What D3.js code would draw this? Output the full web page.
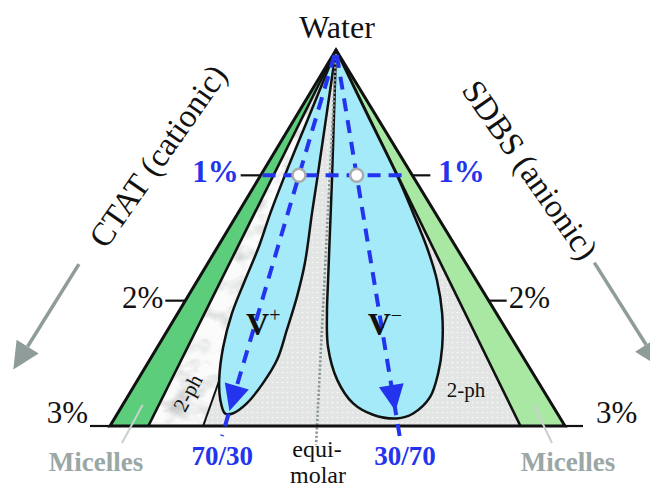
<!DOCTYPE html>
<html>
<head>
<meta charset="utf-8">
<script src="https://cdn.jsdelivr.net/npm/d3@7"></script>
<style>
  html, body { margin: 0; padding: 0; background: #fff; }
  svg { display: block; }
  text { font-family: "Liberation Serif", "Times New Roman", "DejaVu Serif", serif; }
</style>
</head>
<body>
<svg id="chart" width="650" height="489"></svg>
<script>
// Total surfactant concentration (wt%) marked on both sides of the triangle
const concTicks = [1, 2, 3];
const concLabels = ["1%", "2%", "3%"];

// Phase boundaries, as CTAT mole fraction of the surfactant mixture
const micelleCtatBoundary = 0.9;    // CTAT-rich micelles between 0.9 and 1
const micelleSdbsBoundary = 0.08;   // SDBS-rich micelles between 0 and 0.08
const twoPhaseCtatBoundary = 0.757; // lower edge of the CTAT-rich two-phase wedge

// Dilution paths at a fixed CTAT/SDBS ratio
const ratioPaths = [0.7, 0.3];
const ratioLabels = ["70/30", "30/70"];
const equimolar = 0.5;

// Vesicle lobes, points as [CTAT fraction, total wt%]
const vesiclePlus = [
  [0.7, 0], [0.578, 0.5], [0.578, 1.04], [0.579, 1.30], [0.578, 1.70], [0.588, 1.97],
  [0.602, 2.23], [0.614, 2.47], [0.638, 2.66], [0.665, 2.82], [0.691, 2.90], [0.710, 2.90],
  [0.735, 2.79], [0.758, 2.63], [0.783, 2.37], [0.798, 2.10], [0.798, 1.835], [0.795, 1.57],
  [0.805, 1.30], [0.81, 1.04], [0.81, 0.5], [0.7, 0]
];
const vesicleMinus = [
  [0.4, 0], [0.085, 0.5], [0.083, 1.0], [0.092, 1.30], [0.10, 1.57], [0.115, 1.835],
  [0.139, 2.10], [0.170, 2.37], [0.198, 2.58], [0.2285, 2.77], [0.268, 2.90], [0.30, 2.94],
  [0.359, 2.91], [0.408, 2.82], [0.450, 2.63], [0.478, 2.37], [0.485, 2.10], [0.485, 1.835],
  [0.484, 1.44], [0.482, 1.04], [0.482, 0.5], [0.4, 0]
];

// Region names placed at [CTAT fraction, total wt%]
const vesicleNames = [
  { name: "V", sup: "+", f: 0.72, c: 2.274 },
  { name: "V", sup: "\u2212", f: 0.35, c: 2.274 }
];
const twoPhaseNames = [
  { text: "2-ph", f: 0.834, c: 2.737, angle: -62 },
  { text: "2-ph", f: 0.153, c: 2.71, angle: 0 }
];

const BLUE = "#2434ee";
const GREY = "#8e9c9a";

const svg = d3.select("#chart");

// Ternary layout: water at the apex, concentration downwards, composition across
const apexX = 336;
const yConc = d3.scaleLinear().domain([0, 3]).range([50, 426]);
const spread = d3.scaleLinear().domain([1, 0.7, 0.5, 0.3, 0]).range([-226, -111, -19, 62, 229]);
const proj = (f, c) => [apexX + spread(f) * c / 3, yConc(c)];

// ---------- defs: dotted fill and mottled texture ----------
const defs = svg.append("defs");
const pat = defs.append("pattern").attr("id", "dots")
  .attr("width", 5).attr("height", 5).attr("patternUnits", "userSpaceOnUse");
pat.append("rect").attr("width", 5).attr("height", 5).attr("fill", "#e3e5e5");
pat.append("circle").attr("cx", 2.5).attr("cy", 2.5).attr("r", 0.8).attr("fill", "#fbfbfb");

const marble = defs.append("filter").attr("id", "marble")
  .attr("x", 0).attr("y", 0).attr("width", 1).attr("height", 1);
marble.append("feTurbulence").attr("type", "fractalNoise")
  .attr("baseFrequency", "0.03 0.05").attr("numOctaves", 4).attr("seed", 7);
marble.append("feColorMatrix").attr("type", "matrix")
  .attr("values", "0 0 0 0 0.45  0 0 0 0 0.47  0 0 0 0 0.47  2.6 0 0 0 -1.2");

const polyPath = pts => "M" + pts.map(p => p.join(",")).join("L") + "Z";
const apexPt = proj(0.5, 0);

// ---------- regions ----------
// two-phase (dotted) region between the CTAT-rich wedge and the SDBS micelle band
svg.append("path")
  .attr("d", polyPath([apexPt, proj(twoPhaseCtatBoundary, 3), proj(micelleSdbsBoundary, 3)]))
  .attr("fill", "url(#dots)");

// CTAT-rich two-phase wedge with mottled texture
const wedge = [apexPt, proj(micelleCtatBoundary, 3), proj(twoPhaseCtatBoundary, 3)];
defs.append("clipPath").attr("id", "wedgeClip").append("path").attr("d", polyPath(wedge));
svg.append("path").attr("d", polyPath(wedge)).attr("fill", "#fbfbfb");
const wx = d3.extent(wedge, p => p[0]), wy = d3.extent(wedge, p => p[1]);
svg.append("rect")
  .attr("x", wx[0]).attr("y", wy[0]).attr("width", wx[1] - wx[0]).attr("height", wy[1] - wy[0])
  .attr("filter", "url(#marble)").attr("clip-path", "url(#wedgeClip)").attr("opacity", 0.7);

// micelle bands
svg.append("path")
  .attr("d", polyPath([apexPt, proj(1, 3), proj(micelleCtatBoundary, 3)]))
  .attr("fill", "#5ccd7a");
svg.append("path")
  .attr("d", polyPath([apexPt, proj(micelleSdbsBoundary, 3), proj(0, 3)]))
  .attr("fill", "#a9e8a2");

// inner boundary lines
[micelleCtatBoundary, twoPhaseCtatBoundary, micelleSdbsBoundary].forEach((f, i) => {
  const b = proj(f, 3);
  svg.append("line")
    .attr("x1", apexPt[0]).attr("y1", apexPt[1]).attr("x2", b[0]).attr("y2", b[1])
    .attr("stroke", "#111").attr("stroke-width", i === 1 ? 2 : 2.6);
});

// vesicle lobes
const lobeLine = d3.line()
  .x(d => proj(d[0], d[1])[0])
  .y(d => proj(d[0], d[1])[1])
  .curve(d3.curveCatmullRom.alpha(0.5));
[vesiclePlus, vesicleMinus].forEach(lobe => {
  svg.append("path")
    .attr("d", lobeLine(lobe) + "Z")
    .attr("fill", "#a4eaf8")
    .attr("stroke", "#111")
    .attr("stroke-width", 2.5)
    .attr("stroke-linejoin", "round");
});

// equimolar line
const eqEnd = proj(equimolar, 3.15);
svg.append("line")
  .attr("x1", apexPt[0]).attr("y1", apexPt[1] + 4).attr("x2", eqEnd[0]).attr("y2", eqEnd[1])
  .attr("stroke", "#8a9696").attr("stroke-width", 2.6).attr("stroke-dasharray", "2.2,2");

// outer triangle
svg.append("path")
  .attr("d", polyPath([apexPt, proj(1, 3), proj(0, 3)]))
  .attr("fill", "none").attr("stroke", "#111").attr("stroke-width", 3)
  .attr("stroke-linejoin", "miter");

// ---------- concentration ticks ----------
const rightGap = [26, 20, 31];
concTicks.forEach((c, i) => {
  const l = proj(1, c), r = proj(0, c);
  svg.append("line").attr("x1", l[0] - 20).attr("x2", l[0]).attr("y1", l[1]).attr("y2", l[1])
    .attr("stroke", "#111").attr("stroke-width", 2.2);
  svg.append("line").attr("x1", r[0]).attr("x2", r[0] + 18).attr("y1", r[1]).attr("y2", r[1])
    .attr("stroke", "#111").attr("stroke-width", 2.2);
  const isBlue = c === 1;
  const dy = c === 3 ? -3 : 7;
  [[l[0] - 22, "end"], [r[0] + rightGap[i], "start"]].forEach(([x, anchor]) => {
    svg.append("text")
      .attr("x", x).attr("y", l[1] + dy)
      .attr("text-anchor", anchor)
      .attr("font-size", 31)
      .attr("font-weight", isBlue ? "bold" : "normal")
      .attr("fill", isBlue ? BLUE : "#111")
      .text(concLabels[i]);
  });
});

// ---------- 1% dilution line and ratio paths ----------
const h0 = proj(0.985, 1), h1 = proj(0.04, 1);
svg.append("line")
  .attr("x1", h0[0]).attr("y1", h0[1]).attr("x2", h1[0]).attr("y2", h1[1])
  .attr("stroke", BLUE).attr("stroke-width", 4).attr("stroke-dasharray", "13,8");

ratioPaths.forEach((f, i) => {
  const p0 = proj(f, 0.04), p1 = proj(f, 3.08);
  svg.append("line")
    .attr("x1", p0[0]).attr("y1", p0[1]).attr("x2", p1[0]).attr("y2", p1[1])
    .attr("stroke", BLUE).attr("stroke-width", 4).attr("stroke-dasharray", "13,9");
  // arrowhead
  const tip = proj(f, 2.88), back = proj(f, 2.5);
  const len = Math.hypot(tip[0] - back[0], tip[1] - back[1]);
  const ux = (tip[0] - back[0]) / len, uy = (tip[1] - back[1]) / len;
  const L = 26, W = 12.5;
  const bx = tip[0] - ux * L, by = tip[1] - uy * L;
  svg.append("path")
    .attr("d", `M${tip[0]},${tip[1]}L${bx - uy * W},${by + ux * W}L${bx + uy * W},${by - ux * W}Z`)
    .attr("fill", BLUE);
  // sample marker on the 1% line
  const m = proj(f, 1);
  svg.append("circle").attr("cx", m[0]).attr("cy", m[1]).attr("r", 6.5)
    .attr("fill", "#fff").attr("stroke", "#a8acac").attr("stroke-width", 2.5);
  // ratio label
  const base = proj(f, 3.05);
  svg.append("text")
    .attr("x", base[0] + (i === 0 ? -1 : 6)).attr("y", 465)
    .attr("text-anchor", "middle").attr("font-size", 27).attr("font-weight", "bold")
    .attr("fill", BLUE).text(ratioLabels[i]);
});

// equimolar label
const eqBase = proj(equimolar, 3);
["equi-", "molar"].forEach((t, i) => {
  svg.append("text")
    .attr("x", eqBase[0] + (i === 0 ? 0 : 1)).attr("y", 457 + i * 26)
    .attr("text-anchor", "middle").attr("font-size", 24).attr("fill", "#111").text(t);
});

// ---------- region names ----------
vesicleNames.forEach(v => {
  const p = proj(v.f, v.c);
  const t = svg.append("text").attr("x", p[0]).attr("y", p[1])
    .attr("font-size", 32).attr("font-weight", "bold").attr("fill", "#111");
  t.append("tspan").text(v.name);
  t.append("tspan").attr("dy", -13).attr("font-size", 20).attr("font-weight", "normal").text(v.sup);
});
twoPhaseNames.forEach(n => {
  const p = proj(n.f, n.c);
  svg.append("text")
    .attr("transform", `translate(${p[0]},${p[1]}) rotate(${n.angle})`)
    .attr("text-anchor", "middle").attr("dominant-baseline", "central")
    .attr("font-size", 21).attr("fill", "#111").text(n.text);
});

// ---------- apex and side titles ----------
svg.append("text").attr("x", apexX + 1).attr("y", 38)
  .attr("text-anchor", "middle").attr("font-size", 32).attr("fill", "#111").text("Water");

svg.append("text")
  .attr("transform", "translate(158,156) rotate(-55)")
  .attr("text-anchor", "middle").attr("dominant-baseline", "central")
  .attr("font-size", 33).attr("fill", "#111").text("CTAT (cationic)");
svg.append("text")
  .attr("transform", "translate(530,170) rotate(55)")
  .attr("text-anchor", "middle").attr("dominant-baseline", "central")
  .attr("font-size", 33).attr("fill", "#111").text("SDBS (anionic)");

// grey arrows running parallel to the two surfactant edges
function besideEdge(f, dist, off) {
  const a = proj(f, 0), b = proj(f, 3);
  const len = Math.hypot(b[0] - a[0], b[1] - a[1]);
  const ux = (b[0] - a[0]) / len, uy = (b[1] - a[1]) / len;
  let nx = -uy, ny = ux;
  if (f === 0) { nx = -nx; ny = -ny; }
  return [a[0] + ux * dist + nx * off, a[1] + uy * dist + ny * off];
}
[1, 0].forEach(f => {
  const s = besideEdge(f, 316, 110), tip = besideEdge(f, 440, 112);
  const len = Math.hypot(tip[0] - s[0], tip[1] - s[1]);
  const ux = (tip[0] - s[0]) / len, uy = (tip[1] - s[1]) / len;
  const L = 27, W = 13;
  const bx = tip[0] - ux * L, by = tip[1] - uy * L;
  svg.append("line").attr("x1", s[0]).attr("y1", s[1]).attr("x2", bx).attr("y2", by)
    .attr("stroke", GREY).attr("stroke-width", 3.5);
  svg.append("path")
    .attr("d", `M${tip[0]},${tip[1]}L${bx - uy * W},${by + ux * W}L${bx + uy * W},${by - ux * W}Z`)
    .attr("fill", GREY);
});

// micelle labels with leader lines into the bands
[[0.945, -14, 26], [0.035, 3, -16]].forEach(([f, dx, lx]) => {
  const corner = proj(f > 0.5 ? 1 : 0, 3);
  const inBand = proj(f, 2.83);
  const cx = corner[0] + dx;
  svg.append("line")
    .attr("x1", cx + lx).attr("y1", 443).attr("x2", inBand[0]).attr("y2", inBand[1])
    .attr("stroke", "#c9d0d0").attr("stroke-width", 2);
  svg.append("text").attr("x", cx).attr("y", 471)
    .attr("text-anchor", "middle").attr("font-size", 27).attr("font-weight", "bold")
    .attr("fill", "#9aa7a5").text("Micelles");
});
</script>
</body>
</html>
